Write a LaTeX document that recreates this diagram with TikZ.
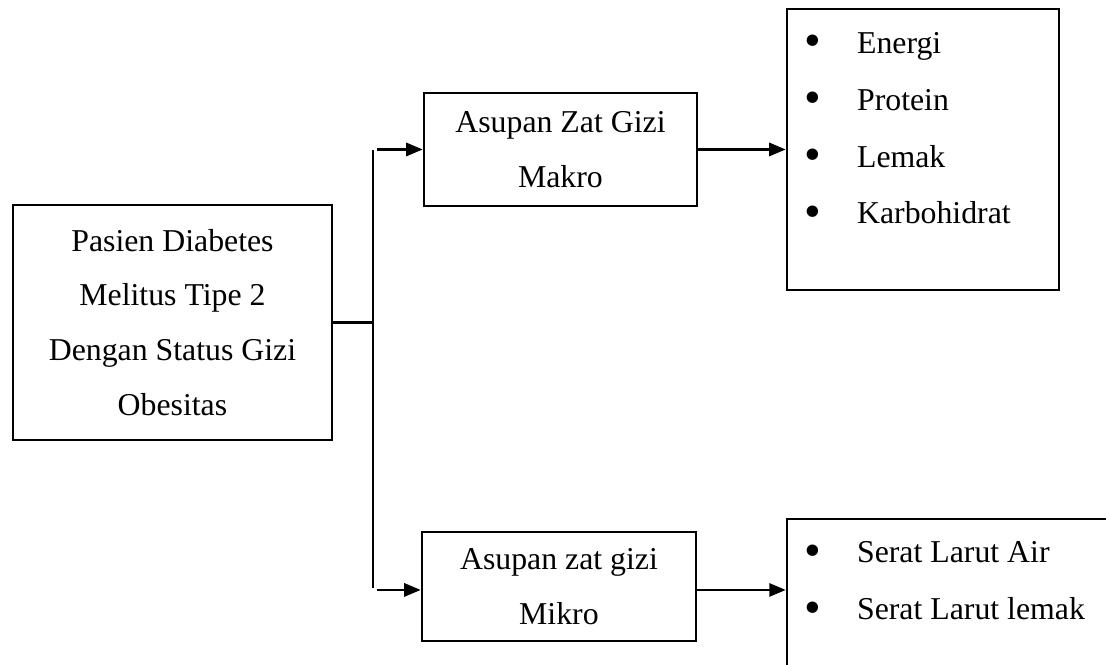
\documentclass[tikz,border=0pt]{standalone}
\usepackage{fontspec}
\setmainfont{Liberation Serif}
\usepackage{tikz}
\usetikzlibrary{positioning}
\usetikzlibrary{arrows.meta}

\newcommand{\itembullet}{\makebox[18.1pt][l]{\hspace{-1.6pt}\raisebox{-1.4pt}{\fontsize{18pt}{18pt}\selectfont\textbullet}}}

\begin{document}
\begin{tikzpicture}[->,>={Triangle[length=6.2pt,width=5pt]},line width=0.85pt,
  box/.style={draw,line width=1pt,align=center,inner sep=0pt,font=\fontsize{12pt}{20.7pt}\selectfont},
  itemtext/.style={anchor=base west,inner sep=0pt,font=\fontsize{12pt}{14pt}\selectfont}]
  \useasboundingbox (0,0) rectangle (14.666,-8.805);
  \clip (0,0) rectangle (14.666,-8.805);
  % Boxes
  \node[box,minimum width=4.23cm,minimum height=3.116cm] (pasien) at (2.287,-4.276)
    {Pasien Diabetes\\Melitus Tipe 2\\Dengan Status Gizi\\Obesitas};
  \node[box,minimum width=3.62cm,minimum height=1.498cm] (makro) at (7.432,-1.982)
    {Asupan Zat Gizi\\Makro};
  \node[box,minimum width=3.633cm,minimum height=1.445cm] (mikro) at (7.412,-7.777)
    {Asupan zat gizi\\Mikro};
  \node[box,minimum width=3.607cm,minimum height=3.726cm] (makroList) at (12.239,-1.982) {};
  \node[box,minimum width=4.548cm,minimum height=2.4cm] (seratList) at (12.71,-8.082) {};
  % Lists
  \node[itemtext] (energi) at (10.714,-0.703) {\itembullet Energi};
  \node[itemtext] (protein) at (10.714,-1.459) {\itembullet Protein};
  \node[itemtext] (lemak) at (10.714,-2.215) {\itembullet Lemak};
  \node[itemtext] (karbo) at (10.714,-2.964) {\itembullet Karbohidrat};
  \node[itemtext] (seratAir) at (10.714,-7.465) {\itembullet Serat Larut Air};
  \node[itemtext] (seratLemak) at (10.714,-8.221) {\itembullet Serat Larut lemak};
  % Branch lines
  \coordinate (spineTop) at (4.946,-1.989);
  \coordinate (spineBot) at (4.946,-7.797);
  \coordinate (toMakro) at (4.999,-1.982);
  \coordinate (toMikro) at (4.999,-7.823);
  \draw[-] (spineTop) -- (spineBot);
  \draw[-] (pasien.east) -- (pasien.east -| spineTop);
  \draw (toMakro) -- (makro.west);
  \draw (toMikro) -- (toMikro -| mikro.west);
  \draw (makro.east) -- (makroList.west);
  \draw (mikro.east |- toMikro) -- (toMikro -| seratList.west);
\end{tikzpicture}
\end{document}
